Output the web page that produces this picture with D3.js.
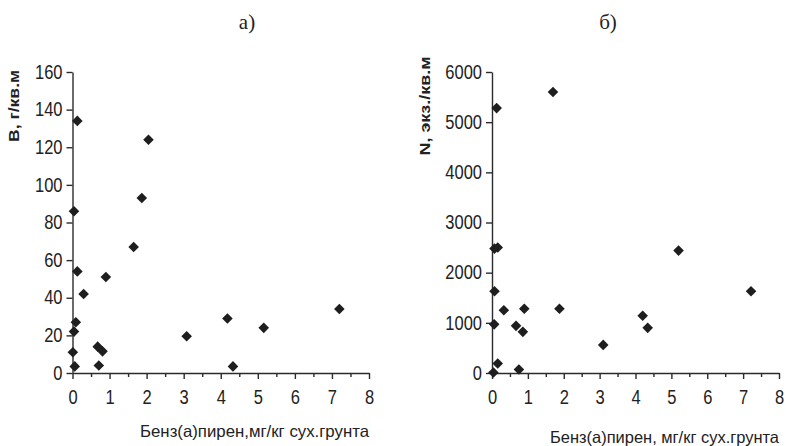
<!DOCTYPE html>
<html>
<head>
<meta charset="utf-8">
<script src="https://cdn.jsdelivr.net/npm/d3@7"></script>
<style>
  html, body { margin: 0; padding: 0; background: #fff; }
  svg { display: block; }
  .axis path, .axis line { stroke: #2b2b2b; stroke-width: 1.4; }
  text { fill: #222; }
</style>
</head>
<body>
<svg id="fig" width="786" height="446"></svg>
<script>
// Benzo(a)pyrene in soil vs. biomass (a) and abundance (б)
const bapA     = [0.13, 2.05, 1.87, 0.04, 1.65, 0.13, 0.90, 0.30, 7.20, 4.18, 0.09, 5.16, 0.04, 3.08, 0.68, 0.81, 0.01, 0.06, 0.71, 4.33];
const biomass  = [134, 124, 93, 86, 67, 54, 51, 42, 34, 29, 27, 24, 22, 19.5, 14, 11.5, 11, 3.5, 4, 3.5];

const bapB      = [1.70, 0.13, 0.07, 0.16, 5.20, 0.07, 7.22, 0.33, 0.90, 1.88, 4.20, 4.34, 0.67, 0.86, 0.06, 3.10, 0.16, 0.75, 0.04];
const abundance = [5600, 5280, 2480, 2500, 2440, 1630, 1630, 1250, 1280, 1280, 1140, 900, 940, 820, 970, 560, 190, 70, 10];

const xTicks  = [0, 1, 2, 3, 4, 5, 6, 7, 8];
const xMinor  = [0.5, 1.5, 2.5, 3.5, 4.5, 5.5, 6.5, 7.5];
const yTicksA = [0, 20, 40, 60, 80, 100, 120, 140, 160];
const yTicksB = [0, 1000, 2000, 3000, 4000, 5000, 6000];

const panelTitles = ["а)", "б)"];
const yTitles = ["B, г/кв.м", "N, экз./кв.м"];
const xTitles = ["Бенз(а)пирен,мг/кг сух.грунта", "Бенз(а)пирен, мг/кг сух.грунта"];

const svg = d3.select("#fig");
const SY = 1.17; // tall, narrow numerals

const panels = [
  { xs: bapA, ys: biomass,   yMax: 160,  yTicks: yTicksA, x0: 72.5, x1: 369, titleX: 247, yTitleX: 19,  yTitleLen: 72, xTitleY: 437, xTitleLen: 229 },
  { xs: bapB, ys: abundance, yMax: 6000, yTicks: yTicksB, x0: 492,  x1: 779, titleX: 608, yTitleX: 430, yTitleLen: 99, xTitleY: 443, xTitleLen: 229 }
];
const yTop = 72, yBot = 373;

panels.forEach((p, i) => {
  const x = d3.scaleLinear().domain([0, 8]).range([p.x0, p.x1]);
  const y = d3.scaleLinear().domain([0, p.yMax]).range([yBot, yTop]);

  // x axis: major ticks with labels, minor half-unit ticks
  const gx = svg.append("g").attr("class", "axis")
    .attr("transform", `translate(0,${yBot})`)
    .call(d3.axisBottom(x).tickValues(xTicks).tickSize(6).tickSizeOuter(0).tickFormat(d3.format("d")));
  gx.selectAll(".tick text")
    .attr("font-family", "Liberation Sans, Arial, sans-serif")
    .attr("font-size", 16.5)
    .attr("dy", 0)
    .attr("y", 31 / SY)
    .attr("transform", `scale(1,${SY})`);
  svg.append("g").attr("class", "axis")
    .attr("transform", `translate(0,${yBot})`)
    .call(d3.axisBottom(x).tickValues(xMinor).tickSize(4).tickSizeOuter(0).tickFormat(""))
    .select(".domain").remove();

  // y axis
  const gy = svg.append("g").attr("class", "axis")
    .attr("transform", `translate(${p.x0},0)`)
    .call(d3.axisLeft(y).tickValues(p.yTicks).tickSize(6).tickPadding(4).tickSizeOuter(0).tickFormat(d3.format("d")));
  gy.selectAll(".tick text")
    .attr("font-family", "Liberation Sans, Arial, sans-serif")
    .attr("font-size", 16.5)
    .attr("transform", `scale(1,${SY})`);

  // points
  const pts = p.xs.map((v, k) => [v, p.ys[k]]);
  svg.append("g").selectAll("path")
    .data(pts)
    .join("path")
    .attr("d", d3.symbol(d3.symbolSquare, 56))
    .attr("transform", d => `translate(${x(d[0])},${y(d[1])}) rotate(45)`)
    .attr("fill", "#1e1e1e");

  // panel title
  svg.append("text")
    .attr("x", p.titleX).attr("y", 29)
    .attr("text-anchor", "middle")
    .attr("font-family", "Liberation Serif, Times New Roman, serif")
    .attr("font-size", 21)
    .text(panelTitles[i]);

  // y axis title
  svg.append("text")
    .attr("transform", `translate(${p.yTitleX},${106}) rotate(-90)`)
    .attr("text-anchor", "middle")
    .attr("font-family", "Liberation Sans, Arial, sans-serif")
    .attr("font-size", 14)
    .attr("font-weight", "bold")
    .attr("textLength", p.yTitleLen)
    .attr("lengthAdjust", "spacingAndGlyphs")
    .text(yTitles[i]);

  // x axis title
  svg.append("text")
    .attr("transform", `translate(${p.x1 - p.xTitleLen},${p.xTitleY}) scale(1,1.15)`)
    .attr("font-family", "Liberation Sans, Arial, sans-serif")
    .attr("font-size", 14.5)
    .attr("textLength", p.xTitleLen)
    .attr("lengthAdjust", "spacingAndGlyphs")
    .text(xTitles[i]);
});
</script>
</body>
</html>
